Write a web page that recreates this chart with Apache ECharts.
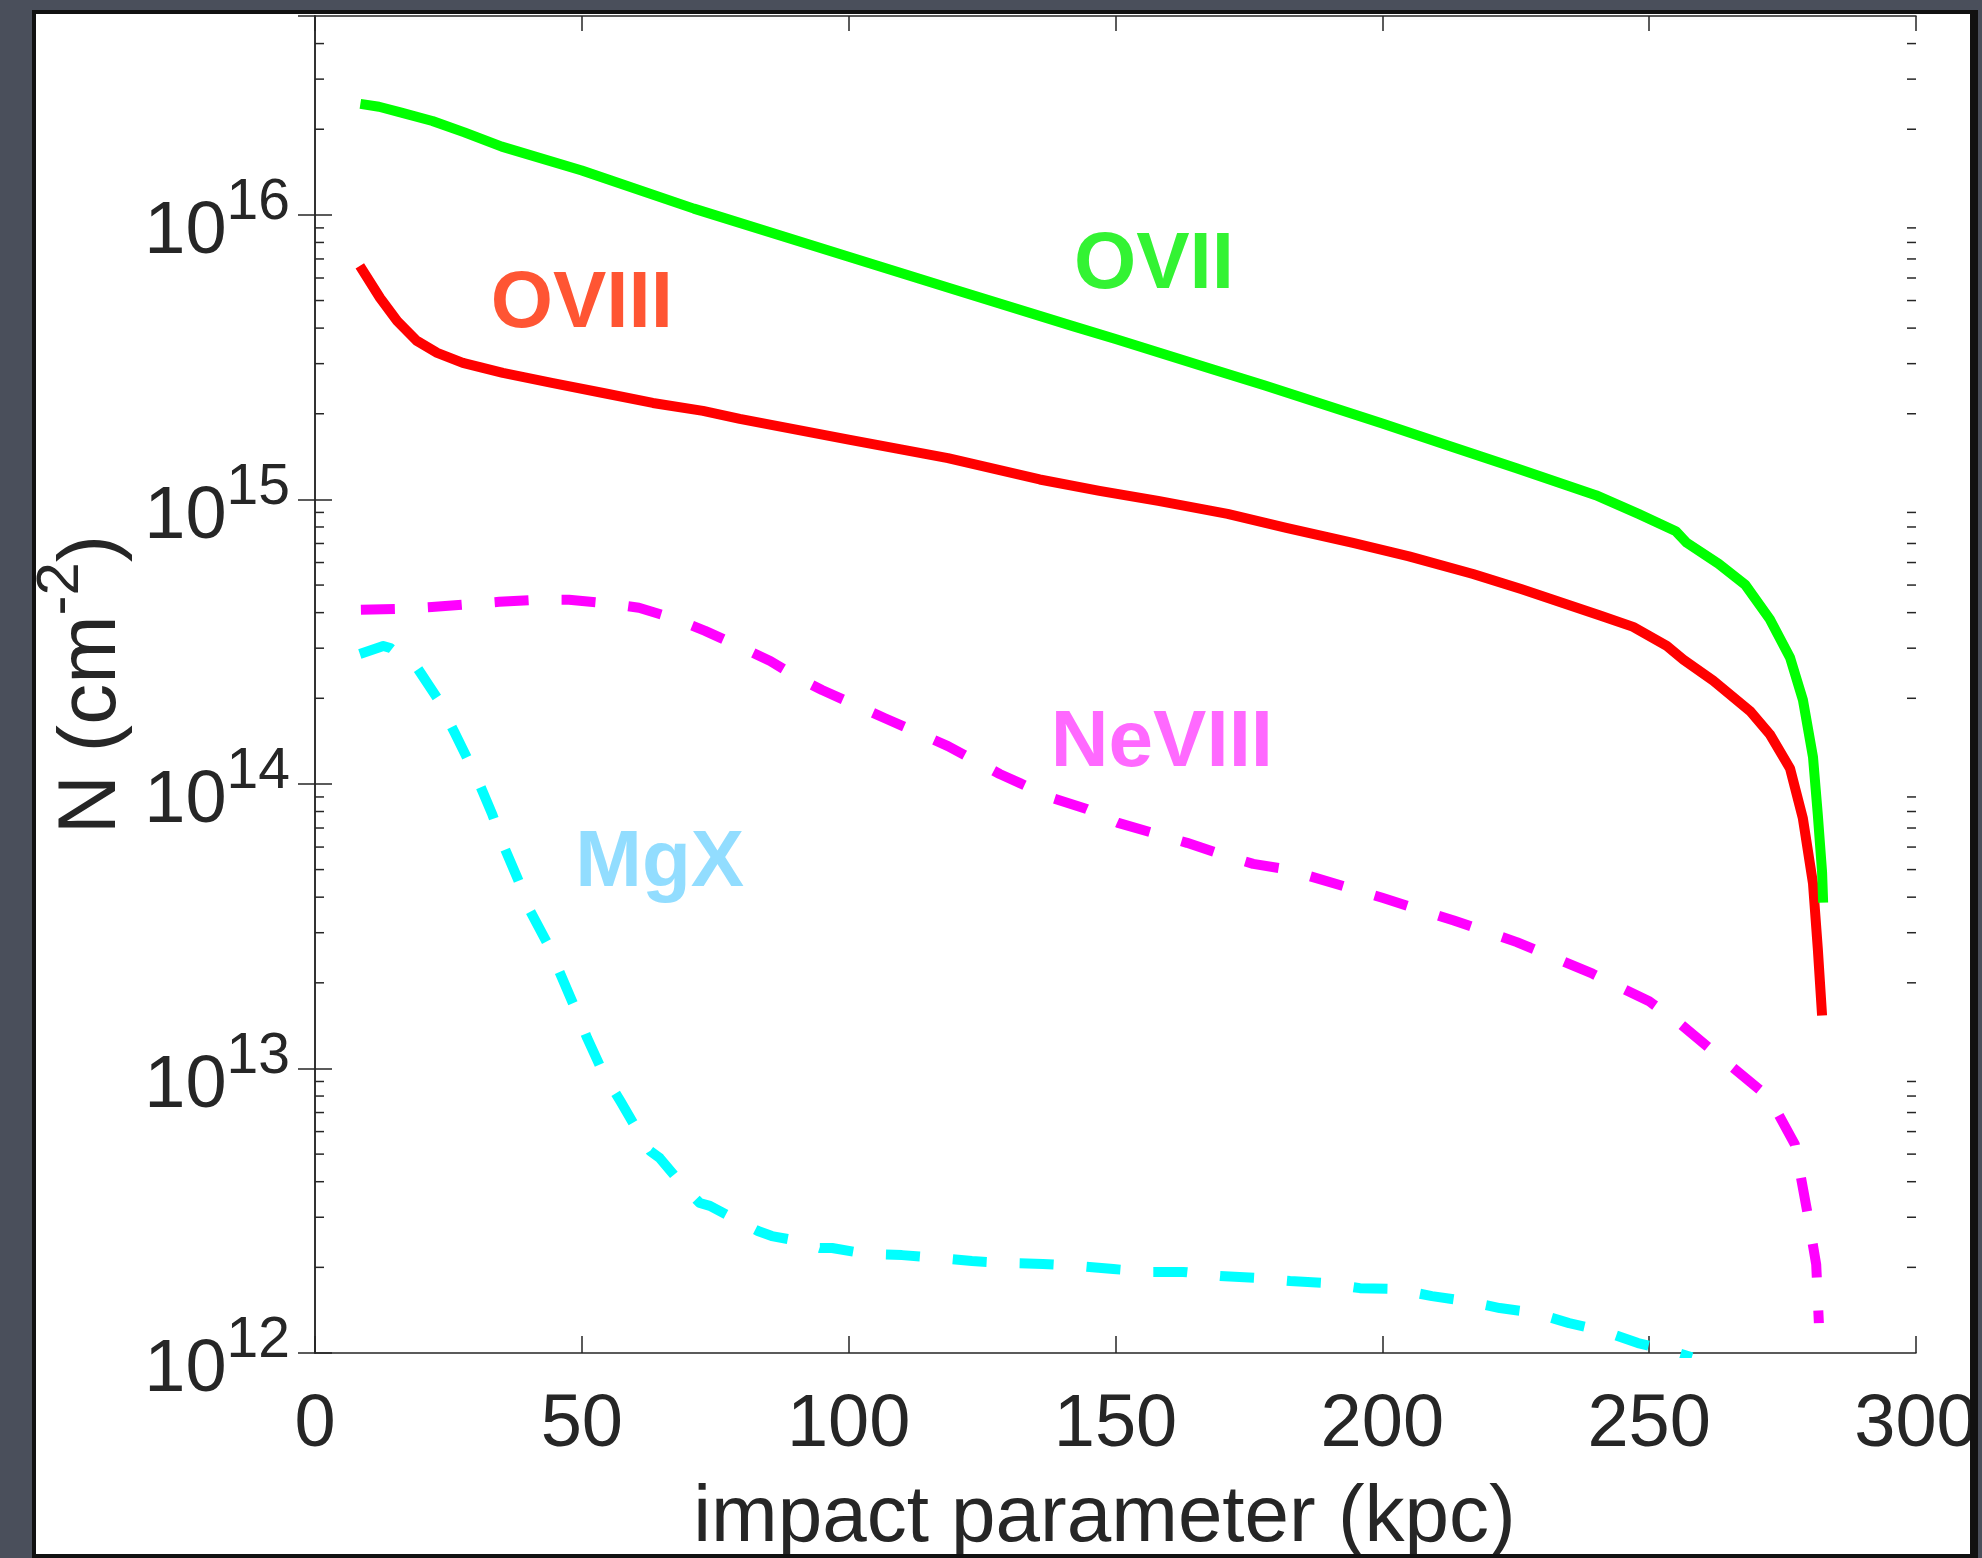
<!DOCTYPE html>
<html lang="en">
<head>
    <meta charset="UTF-8"/>
    <title>column densities</title>
    <script src="https://cdn.jsdelivr.net/npm/echarts@6.0.0/dist/echarts.min.js"></script>
    <style>
        html, body { margin: 0; padding: 0; overflow: hidden; background: #4a4f5b; }
        #card {
            position: absolute; left: 32px; top: 10px; width: 1946px; height: 1548px;
            box-sizing: border-box; background: #fff; overflow: hidden;
            border: 4px solid #111; border-right-width: 8px;
        }
        #main { position: absolute; left: -36px; top: -14px; width: 1982px; height: 1558px; }
    </style>
</head>
<body>
<div id="card"><div id="main"></div></div>
<script type="text/javascript">
    // impact parameter (kpc) and log10 N (cm^-2)
    var kpcOVII = [8.5, 12, 16, 22, 28, 35, 50, 71, 100, 119, 142, 150, 168, 178, 200, 213, 225, 240, 248, 255, 257, 263, 268, 272.6, 276.4, 278.8, 280.7, 281.6, 282.4, 282.6];
    var logOVII = [16.39, 16.38, 16.36, 16.33, 16.29, 16.24, 16.156, 16.022, 15.853, 15.742, 15.609, 15.564, 15.458, 15.40, 15.267, 15.185, 15.11, 15.015, 14.949, 14.888, 14.848, 14.774, 14.70, 14.579, 14.444, 14.296, 14.094, 13.892, 13.69, 13.583];

    var kpcOVIII = [8.4, 12.2, 15.4, 19.1, 22.9, 27.7, 35.2, 44.6, 54, 63.3, 72.7, 79.6, 100, 118.6, 135.8, 147, 158, 171, 182, 194.5, 205, 217, 226, 240.8, 247, 253.3, 256.4, 262, 268.9, 272.6, 276.4, 278.8, 280.7, 281.6, 282.4];
    var logOVIII = [15.821, 15.708, 15.627, 15.557, 15.515, 15.48, 15.445, 15.409, 15.374, 15.339, 15.311, 15.283, 15.21, 15.145, 15.07, 15.03, 14.995, 14.949, 14.90, 14.847, 14.80, 14.738, 14.685, 14.592, 14.552, 14.485, 14.437, 14.363, 14.256, 14.175, 14.054, 13.879, 13.65, 13.421, 13.186];

    var kpcNeVIII = [8.6, 15.2, 21.9, 34.5, 41, 47.6, 54.3, 60.7, 67.1, 73.1, 79.3, 85.3, 90.9, 95, 106.8, 118.6, 128.3, 132.1, 138.1, 144.6, 150.5, 157, 163.4, 169.6, 175.8, 182.1, 200, 213.4, 225.2, 239.4, 250, 255.9, 263, 272.5, 277.3, 279.7, 281.3, 281.8];
    var logNeVIII = [14.612, 14.615, 14.622, 14.64, 14.647, 14.647, 14.636, 14.619, 14.583, 14.538, 14.485, 14.432, 14.369, 14.33, 14.231, 14.133, 14.035, 14.003, 13.951, 13.912, 13.863, 13.828, 13.793, 13.754, 13.719, 13.70, 13.6, 13.52, 13.444, 13.333, 13.236, 13.156, 13.044, 12.898, 12.733, 12.489, 12.311, 12.105];

    var kpcMgX = [8.4, 12.8, 14.1, 19.3, 22.9, 26.2, 28.5, 30.4, 33.2, 35.2, 38, 40.3, 43.5, 48.7, 51, 54, 57.2, 60.5, 62.8, 64.6, 69, 72.1, 74, 80, 83, 85.6, 90.5, 94.6, 96.9, 103.4, 110, 116.7, 123.1, 129.9, 136.4, 143, 149.6, 156.1, 162.7, 169.6, 176.1, 182.7, 189.2, 195.8, 202.4, 209.3, 215.5, 222, 228.6, 235, 241.5, 247.9, 254.1, 258];
    var logMgX = [14.457, 14.485, 14.478, 14.404, 14.302, 14.179, 14.091, 14.018, 13.894, 13.789, 13.666, 13.554, 13.441, 13.213, 13.107, 12.984, 12.886, 12.78, 12.71, 12.685, 12.587, 12.527, 12.517, 12.457, 12.429, 12.411, 12.394, 12.369, 12.369, 12.348, 12.344, 12.334, 12.323, 12.316, 12.313, 12.306, 12.295, 12.285, 12.285, 12.271, 12.264, 12.253, 12.246, 12.228, 12.225, 12.2, 12.183, 12.158, 12.141, 12.105, 12.077, 12.035, 12.007, 11.985];

    // in-plot ion labels: name, kpc, log10 N of the text centre
    var ionNames = ['OVII', 'OVIII', 'NeVIII', 'MgX'];
    var ionLabelKpc = [157.2, 50.0, 158.7, 64.6];
    var ionLabelLog = [15.82, 15.685, 14.14, 13.72];
    var ionLabelColors = ['#00f000', '#ff2a00', '#ff44ff', '#77d4ff'];

    var xTicks = [0, 50, 100, 150, 200, 250, 300];
    var yMin = 1e12, yMax = 5e16;

    function pairs(xs, logs) {
        var out = [];
        for (var i = 0; i < xs.length; i++) out.push([xs[i], Math.pow(10, logs[i])]);
        return out;
    }

    // minor ticks 2..9 x 10^n
    var minorTicks = [];
    for (var e = 12; e <= 16; e++) {
        for (var m = 2; m <= 9; m++) {
            var v = m * Math.pow(10, e);
            if (v < yMax) minorTicks.push([0, v]);
        }
    }

    var axisColor = '#262626';
    var font = 'Liberation Sans';

    var myChart = echarts.init(document.getElementById('main'));

    function lineSeries(name, data, color, dashed) {
        return {
            name: name,
            type: 'line',
            data: data,
            showSymbol: false,
            smooth: false,
            clip: true,
            lineStyle: {color: color, width: 10, type: dashed ? [34, 33] : 'solid', cap: 'butt', join: 'round'},
            z: 3
        };
    }

    var labelData = [];
    for (var i = 0; i < ionNames.length; i++) {
        labelData.push({
            name: ionNames[i],
            value: [ionLabelKpc[i], Math.pow(10, ionLabelLog[i])],
            label: {color: ionLabelColors[i]}
        });
    }

    var tickLine = {color: axisColor, width: 1.5};

    option = {
        animation: false,
        backgroundColor: 'transparent',
        grid: {left: 315, right: 66, top: 16, bottom: 205, containLabel: false, outerBoundsMode: 'none'},
        xAxis: [
            {
                type: 'value', min: 0, max: 300, interval: 50, position: 'bottom',
                axisLine: {lineStyle: tickLine},
                axisTick: {inside: true, length: 17, lineStyle: tickLine},
                splitLine: {show: false},
                axisLabel: {
                    margin: 36, fontSize: 74, color: axisColor, fontFamily: font,
                    formatter: function (v) { return xTicks.indexOf(v) >= 0 ? String(v) : ''; }
                },
                name: 'impact parameter (kpc)', nameLocation: 'middle', nameGap: 126,
                nameTextStyle: {fontSize: 80, color: axisColor, fontFamily: font, padding: [0, 22, 0, 0]}
            },
            {
                type: 'value', min: 0, max: 300, interval: 50, position: 'top',
                axisLine: {lineStyle: tickLine},
                axisTick: {inside: true, length: 15, lineStyle: tickLine},
                splitLine: {show: false}, axisLabel: {show: false}
            }
        ],
        yAxis: [
            {
                type: 'log', logBase: 10, min: yMin, max: yMax, position: 'left',
                axisLine: {show: true, lineStyle: tickLine},
                axisTick: {inside: true, length: 17, lineStyle: tickLine},
                splitLine: {show: false}, minorTick: {show: false},
                axisLabel: {
                    margin: 25, showMaxLabel: false, fontFamily: font, color: axisColor,
                    padding: [36, 0, 0, 0],
                    formatter: function (v) {
                        var p = Math.round(Math.log(v) / Math.LN10);
                        if (Math.abs(Math.pow(10, p) - v) / v > 1e-6) return '';
                        return '{b|10}{s|' + p + '}';
                    },
                    rich: {
                        b: {fontSize: 74, lineHeight: 74, verticalAlign: 'bottom', color: axisColor, fontFamily: font},
                        s: {fontSize: 57, lineHeight: 57, verticalAlign: 'bottom', padding: [0, 0, 38, 0], color: axisColor, fontFamily: font}
                    }
                },
                name: '{b|N (cm}{s|-2}{b|)}', nameLocation: 'middle', nameGap: 176, nameRotate: 90,
                nameTextStyle: {
                    color: axisColor, fontFamily: font,
                    rich: {
                        b: {fontSize: 82, lineHeight: 82, verticalAlign: 'bottom', color: axisColor, fontFamily: font},
                        s: {fontSize: 60, lineHeight: 60, verticalAlign: 'bottom', padding: [0, 0, 42, 0], color: axisColor, fontFamily: font}
                    }
                }
            },
            {
                type: 'log', logBase: 10, min: yMin, max: yMax, position: 'right',
                axisLine: {show: true, lineStyle: tickLine},
                axisTick: {inside: true, length: 17, lineStyle: tickLine},
                splitLine: {show: false}, axisLabel: {show: false}
            }
        ],
        series: [
            lineSeries('MgX', pairs(kpcMgX, logMgX), '#00ffff', true),
            lineSeries('NeVIII', pairs(kpcNeVIII, logNeVIII), '#ff00ff', true),
            lineSeries('OVIII', pairs(kpcOVIII, logOVIII), '#ff0000', false),
            lineSeries('OVII', pairs(kpcOVII, logOVII), '#00ff00', false),
            {
                // minor log ticks on both sides of the box
                type: 'custom',
                data: minorTicks,
                silent: true,
                z: 2,
                renderItem: function (params, api) {
                    var l = api.coord([0, api.value(1)]);
                    var r = api.coord([300, api.value(1)]);
                    var st = {stroke: axisColor, lineWidth: 1.5};
                    return {
                        type: 'group',
                        children: [
                            {type: 'line', shape: {x1: l[0], y1: l[1], x2: l[0] + 9, y2: l[1]}, style: st},
                            {type: 'line', shape: {x1: r[0], y1: r[1], x2: r[0] - 9, y2: r[1]}, style: st}
                        ]
                    };
                }
            },
            {
                type: 'scatter',
                data: labelData,
                symbolSize: 0,
                silent: true,
                z: 4,
                label: {
                    show: true, position: 'inside', formatter: '{b}',
                    fontSize: 80, fontWeight: 'bold', fontFamily: font
                }
            }
        ]
    };

    myChart.setOption(option);
</script>
</body>
</html>
